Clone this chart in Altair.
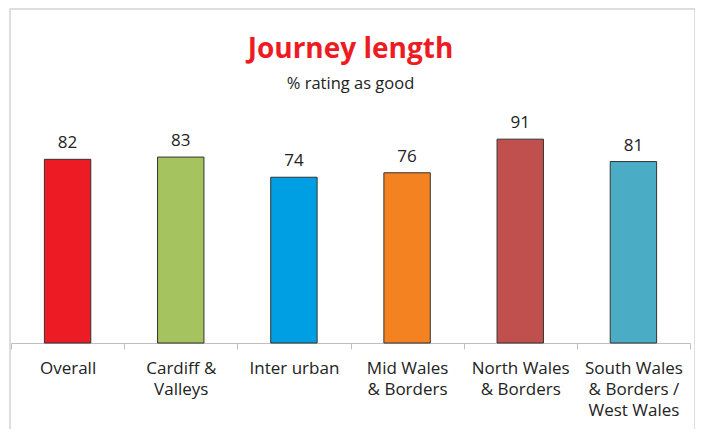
import altair as alt
import pandas as pd

categories = [
    "Overall",
    "Cardiff &|Valleys",
    "Inter urban",
    "Mid Wales|& Borders",
    "North Wales|& Borders",
    "South Wales|& Borders /|West Wales",
]
values = [82, 83, 74, 76, 91, 81]
colors = ["#ED1C24", "#A5C35E", "#009FE3", "#F58220", "#C0504D", "#4BACC6"]

df = pd.DataFrame({"category": categories, "value": values, "color": colors})

FONT = "Open Sans"

x = alt.X(
    "category:N",
    sort=categories,
    scale=alt.Scale(paddingInner=0, paddingOuter=0),
    axis=alt.Axis(
        title=None,
        labelExpr="isValid(datum.value) ? split(datum.value, '|') : ''",
        labelAngle=0,
        tickBand="extent",
        tickSize=6,
        tickColor="#bfbfbf",
        domainColor="#bfbfbf",
        labelFontSize=17,
        labelLineHeight=21,
        labelPadding=11,
        labelFont=FONT,
        labelColor="#222222",
        labelOverlap=False,
    ),
)
y = alt.Y("value:Q", scale=alt.Scale(domain=[0, 100], nice=False), axis=None)

base = alt.Chart(df)

frame = alt.Chart(pd.DataFrame({"a": [0]})).mark_rect(
    fillOpacity=0, stroke="#d4d4d4", strokeWidth=1.5
).encode(
    x=alt.value(-1), x2=alt.value(684), y=alt.value(-110), y2=alt.value(340)
)

bars = base.mark_bar(
    width=alt.RelativeBandSize(0.41), stroke="#333333", strokeWidth=1
).encode(x=x, y=y, color=alt.Color("color:N", scale=None))

labels = base.mark_text(
    dy=-11, baseline="alphabetic", fontSize=17, font=FONT, color="#222222"
).encode(x=x, y=y, text="value:Q")

chart = alt.layer(frame, bars, labels).properties(
    width=679,
    height=224,
    autosize=alt.AutoSizeParams(type="none"),
    padding={"left": 3, "top": 111, "right": 5, "bottom": 86},
    title=alt.Title(
        "Journey length",
        subtitle="% rating as good",
        fontSize=28,
        font=FONT,
        fontWeight="bold",
        color="#ED1C24",
        subtitleFontSize=16.5,
        subtitleFont=FONT,
        subtitleColor="#222222",
        subtitlePadding=12,
        anchor="middle",
        offset=-84,
    ),
).configure_view(stroke=None)

chart.save("out.html", embed_options={"renderer": "svg", "actions": False})
